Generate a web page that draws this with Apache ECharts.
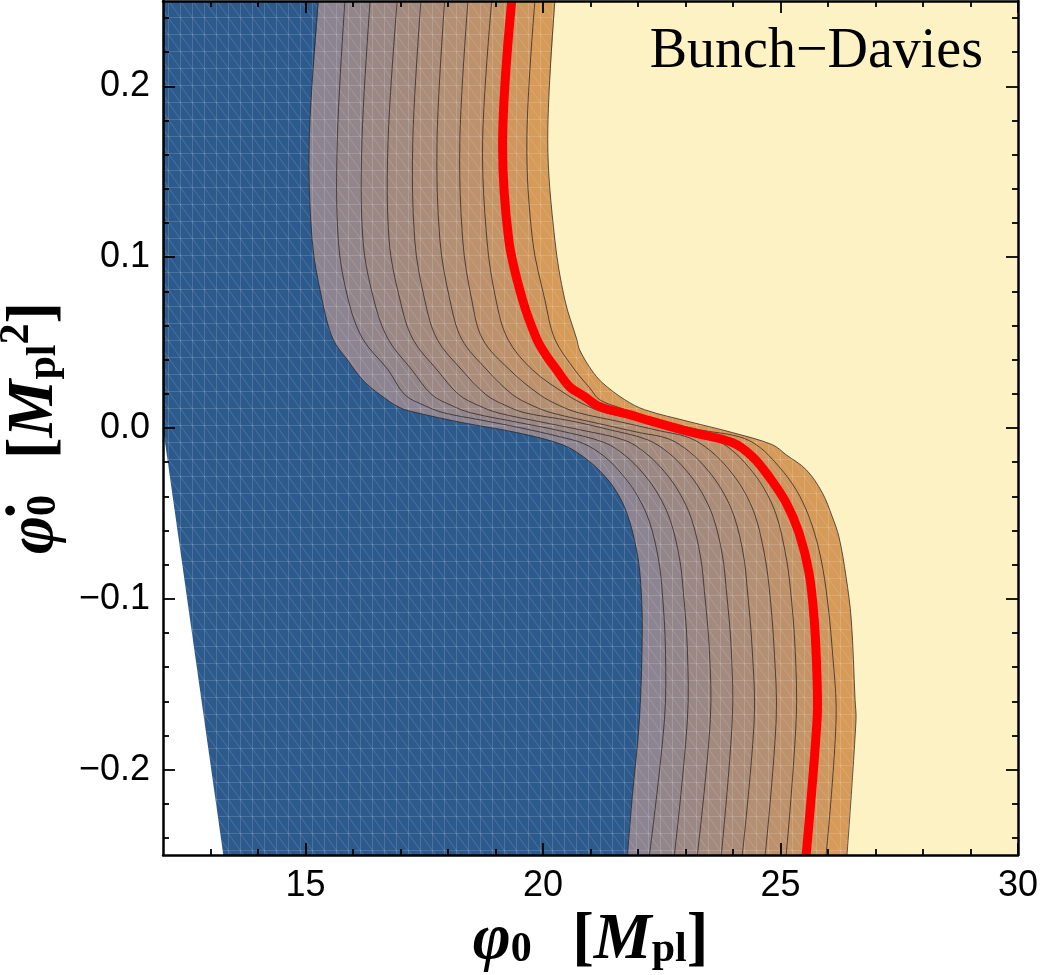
<!DOCTYPE html>
<html><head><meta charset="utf-8">
<script src="https://cdn.jsdelivr.net/npm/echarts@6/dist/echarts.min.js"></script>
<style>html,body{margin:0;padding:0;background:#fff}#c{width:1042px;height:975px}</style>
</head><body><div id="c"></div>
<script>
// ---- tick values ----
const xMajorTicks = [15, 20, 25, 30];
const xMinorTicks = [13, 14, 16, 17, 18, 19, 21, 22, 23, 24, 26, 27, 28, 29];
const yMajorTicks = [-0.2, -0.1, 0, 0.1, 0.2];
const yMinorTicks = [-0.24, -0.22, -0.18, -0.16, -0.14, -0.12, -0.08, -0.06, -0.04, -0.02,
                     0.02, 0.04, 0.06, 0.08, 0.12, 0.14, 0.16, 0.18, 0.22, 0.24];

// ---- contour curves [phi0, phidot0], top to bottom ----
const contourBlueEdge = [[15.27,0.25],[15.08,0.169],[15.14,0.110],[15.35,0.075],[15.58,0.052],[15.88,0.040],[16.21,0.028],[16.57,0.0195],[16.99,0.0119],[17.35,0.0089],[18.31,0.0031],[19.45,-0.0027],[20.41,-0.0098],[20.876,-0.0174],[21.254,-0.0268],[21.548,-0.0373],[21.779,-0.0508],[21.968,-0.0713],[22.052,-0.0889],[22.09,-0.1181],[22.03,-0.1708],[21.88,-0.2159],[21.78,-0.25]];
const contour1 = [[15.83,0.25],[15.67,0.169],[15.69,0.110],[15.90,0.075],[16.21,0.052],[16.74,0.034],[17.09,0.0195],[17.51,0.0131],[17.91,0.0089],[18.67,0.0048],[19.51,0.0002],[20.35,-0.0051],[20.86,-0.0092],[21.296,-0.0168],[21.674,-0.0274],[21.989,-0.0397],[22.241,-0.0549],[22.430,-0.0766],[22.514,-0.0971],[22.578,-0.1298],[22.557,-0.1708],[22.241,-0.25]];
const contour2 = [[16.36,0.25],[16.19,0.169],[16.21,0.110],[16.44,0.075],[16.74,0.052],[17.24,0.034],[17.66,0.0195],[18.08,0.0131],[18.48,0.0089],[19.51,0.0031],[20.35,-0.0016],[21.30,-0.0086],[21.737,-0.0163],[22.115,-0.0268],[22.430,-0.0391],[22.682,-0.0543],[22.872,-0.076],[22.956,-0.0965],[23.040,-0.1298],[23.040,-0.1708],[22.767,-0.25]];
const contour3 = [[16.93,0.25],[16.74,0.169],[16.76,0.110],[16.99,0.075],[17.26,0.052],[17.77,0.034],[18.23,0.0195],[18.65,0.0131],[19.05,0.0089],[19.93,0.0037],[20.77,-0.0010],[21.74,-0.0074],[22.178,-0.0151],[22.557,-0.0256],[22.872,-0.0379],[23.124,-0.0531],[23.313,-0.0748],[23.397,-0.0953],[23.502,-0.1298],[23.523,-0.1708],[23.250,-0.25]];
const contour4 = [[17.43,0.25],[17.26,0.169],[17.30,0.110],[17.51,0.075],[17.77,0.052],[18.29,0.034],[18.80,0.0195],[19.22,0.0131],[19.62,0.0089],[20.56,0.0043],[21.40,-0.0010],[22.20,-0.0069],[22.641,-0.0145],[23.019,-0.025],[23.334,-0.0373],[23.586,-0.0525],[23.775,-0.0742],[23.859,-0.0947],[23.964,-0.1298],[23.985,-0.1708],[23.754,-0.25]];
const contour5 = [[17.93,0.25],[17.77,0.169],[17.83,0.110],[18.04,0.075],[18.29,0.052],[18.82,0.034],[19.36,0.0195],[19.78,0.0131],[20.18,0.0089],[21.19,0.0025],[22.03,-0.0027],[22.64,-0.0063],[23.082,-0.0139],[23.460,-0.0244],[23.775,-0.0368],[24.027,-0.052],[24.216,-0.0737],[24.300,-0.0941],[24.405,-0.1298],[24.447,-0.1708],[24.195,-0.25]];
const contour6 = [[18.42,0.25],[18.25,0.169],[18.31,0.110],[18.50,0.075],[18.73,0.052],[19.30,0.034],[19.93,0.0195],[20.35,0.0131],[20.75,0.0089],[21.61,0.0037],[22.45,-0.0016],[23.08,-0.0057],[23.523,-0.0133],[23.901,-0.0239],[24.216,-0.0362],[24.468,-0.0514],[24.657,-0.0731],[24.762,-0.0935],[24.867,-0.1298],[24.909,-0.1708],[24.678,-0.25]];
const contour7 = [[18.92,0.25],[18.73,0.169],[18.82,0.110],[19.01,0.075],[19.26,0.052],[19.78,0.034],[20.50,0.0195],[20.92,0.0131],[21.32,0.0089],[22.03,0.0048],[22.87,-0.0004],[23.52,-0.0051],[23.964,-0.0127],[24.342,-0.0233],[24.657,-0.0356],[24.909,-0.0508],[25.098,-0.0725],[25.204,-0.0929],[25.309,-0.1298],[25.330,-0.1708],[25.120,-0.25]];
const contourRed = [[19.34,0.25],[19.15,0.169],[19.28,0.110],[19.57,0.075],[19.87,0.052],[20.08,0.042],[20.29,0.034],[20.56,0.0242],[20.88,0.0183],[21.19,0.0125],[21.82,0.0078],[22.24,0.0043],[23.08,-0.0022],[23.99,-0.0086],[24.41,-0.0168],[24.76,-0.0286],[25.12,-0.0438],[25.39,-0.0614],[25.60,-0.0848],[25.71,-0.1123],[25.77,-0.1474],[25.77,-0.1708],[25.54,-0.25]];
const contour9 = [[19.83,0.25],[19.66,0.169],[19.78,0.110],[20.04,0.075],[20.25,0.052],[20.67,0.034],[20.98,0.0236],[21.19,0.0166],[21.61,0.0119],[22.24,0.006],[23.29,-0.0010],[24.13,-0.0051],[24.55,-0.011],[24.97,-0.0227],[25.33,-0.0362],[25.60,-0.052],[25.81,-0.0713],[25.96,-0.0947],[26.09,-0.1298],[26.17,-0.1708],[25.96,-0.25]];
const contourOuter = [[20.25,0.25],[20.10,0.169],[20.25,0.110],[20.46,0.075],[20.71,0.052],[20.77,0.0458],[21.02,0.034],[21.25,0.0265],[21.72,0.0166],[22.14,0.0107],[23.08,0.0037],[23.99,-0.0027],[24.83,-0.0098],[25.12,-0.0157],[25.54,-0.0244],[25.88,-0.0379],[26.09,-0.052],[26.23,-0.0637],[26.38,-0.0871],[26.49,-0.1123],[26.57,-0.1591],[26.59,-0.1708],[26.40,-0.25]];
const emptyCorner = [[12,0.0],[13.27,-0.25],[12,-0.25]];

const contours = [contourBlueEdge, contour1, contour2, contour3, contour4, contour5, contour6, contour7, contourRed, contour9, contourOuter];
const bandColors = ['#8c8490','#93868b','#9b8885','#a38a7f','#ab8c79','#b38f73','#bc916c','#c49466','#cd975f','#d69a59'];
const blueColor = '#2c5a8c';
const yellowColor = '#fdf2c4';
const SMOOTH = 0.35;

// faint mesh texture
const mesh = document.createElement('canvas');
mesh.width = 12; mesh.height = 17;
(function(){
  const c = mesh.getContext('2d');
  c.strokeStyle = 'rgba(255,255,255,0.15)';
  c.lineWidth = 1;
  c.beginPath();
  c.moveTo(0.5,0); c.lineTo(0.5,17);
  c.moveTo(0,0.5); c.lineTo(12,0.5);
  c.moveTo(0,0); c.lineTo(12,17);
  c.stroke();
})();

const chart = echarts.init(document.getElementById('c'), null, {renderer:'canvas'});
const ff = '"Liberation Sans", Arial, sans-serif';
const serif = '"Liberation Serif", "Times New Roman", serif';

function richStyles(gapSize){
  const big = {fontFamily:serif, fontSize:65, fontWeight:'bold', color:'#000', lineHeight:72, verticalAlign:'bottom'};
  return {
    p: Object.assign({}, big, {fontStyle:'italic'}),
    m: Object.assign({}, big, {fontStyle:'italic'}),
    b: Object.assign({}, big),
    g: Object.assign({}, big, {fontSize:gapSize}),
    s: {fontFamily:serif, fontSize:42, fontWeight:'bold', color:'#000', lineHeight:42, verticalAlign:'bottom', padding:[0,0,3,0]},
    t: {fontFamily:serif, fontSize:42, fontWeight:'bold', color:'#000', lineHeight:42, verticalAlign:'top'}
  };
}

function xAx(pos, major, withLabel){
  return {
    type:'value', min:12, max:30, position:pos, z:10,
    splitLine:{show:false},
    axisLine: {show: !major, onZero:false, lineStyle:{color:'#000', width:2.5}},
    axisTick:{show:true, inside:true, length: major?12:6, customValues: major?xMajorTicks:xMinorTicks, lineStyle:{color:'#000', width:1.8}},
    axisLabel: withLabel ? {show:true, customValues:xMajorTicks, margin:13, color:'#000', fontSize:36, fontFamily:ff} : {show:false},
    name: withLabel ? '{p|\u03C6}{s|0}{g|   }{b|[}{m|M}{s|pl}{b|]}' : '',
    nameLocation:'middle', nameGap:42,
    nameTextStyle: withLabel ? {rich: richStyles(54)} : {}
  };
}
function yAx(pos, major, withLabel){
  return {
    type:'value', min:-0.25, max:0.25, position:pos, z:10,
    splitLine:{show:false},
    axisLine: {show: !major, onZero:false, lineStyle:{color:'#000', width:2.5}},
    axisTick:{show:true, inside:true, length: major?12:6, customValues: major?yMajorTicks:yMinorTicks, lineStyle:{color:'#000', width:1.8}},
    axisLabel: withLabel ? {show:true, customValues:yMajorTicks, margin:13, color:'#000', fontSize:36, fontFamily:ff,
      formatter: v => (v < -1e-9 ? '\u2212' : '') + Math.abs(v).toFixed(1)} : {show:false},
    name: withLabel ? '{p|\u03C6\u0307}{s|0}{g|   }{b|[}{m|M}{s|pl}{t|2}{b|]}' : '',
    nameLocation:'middle', nameGap:94, nameRotate:90,
    nameTextStyle: withLabel ? {rich: richStyles(48)} : {}
  };
}

function renderAll(params, api){
  const P = arr => arr.map(p => api.coord(p));
  const tl = api.coord([12, 0.25]), bl = api.coord([12, -0.25]);
  function region(arr){
    const pts = P(arr);
    const a = pts[0], z = pts[pts.length-1];
    return pts.concat([[z[0], z[1]+40], [bl[0]-40, z[1]+40], [tl[0]-40, a[1]-40], [a[0], a[1]-40]]);
  }
  const ch = [];
  for (let k = 10; k >= 1; k--) {
    ch.push({type:'polygon', shape:{points: region(contours[k]), smooth:SMOOTH}, style:{fill: bandColors[k-1]}});
  }
  ch.push({type:'polygon', shape:{points: region(contours[0]), smooth:SMOOTH}, style:{fill: blueColor}});
  ch.push({type:'polygon', shape:{points: region(contours[10]), smooth:SMOOTH}, style:{fill:{image: mesh, repeat:'repeat'}}});
  ch.push({type:'polygon', shape:{points: P(emptyCorner)}, style:{fill:'#ffffff'}});
  for (let k = 0; k <= 10; k++) {
    if (k === 8) continue;
    ch.push({type:'polyline', shape:{points: P(contours[k]), smooth:SMOOTH}, style:{stroke:'rgba(45,35,35,0.85)', lineWidth:0.9, fill:null}});
  }
  ch.push({type:'polyline', shape:{points: P(contourRed), smooth:SMOOTH}, style:{stroke:'#ff0000', lineWidth:9, fill:null, lineJoin:'round'}});
  return {type:'group', children: ch};
}

chart.setOption({
  animation:false,
  backgroundColor:'#ffffff',
  title:{text:'Bunch\u2212Davies', right:54, top:19, textStyle:{fontFamily:serif, fontSize:56, fontWeight:'normal', color:'#000'}},
  grid:{left:163, right:24, top:1, bottom:120, show:true, backgroundColor:yellowColor, borderWidth:0, containLabel:false, outerBoundsMode:'none'},
  xAxis:[xAx('bottom', false, false), xAx('bottom', true, true), xAx('top', false, false), xAx('top', true, false)],
  yAxis:[yAx('left', false, false), yAx('left', true, true), yAx('right', false, false), yAx('right', true, false)],
  series:[{
    type:'custom', coordinateSystem:'cartesian2d', xAxisIndex:0, yAxisIndex:0, clip:true,
    data:[[20, 0]], renderItem: renderAll, silent:true, z:2
  }]
});
</script></body></html>
